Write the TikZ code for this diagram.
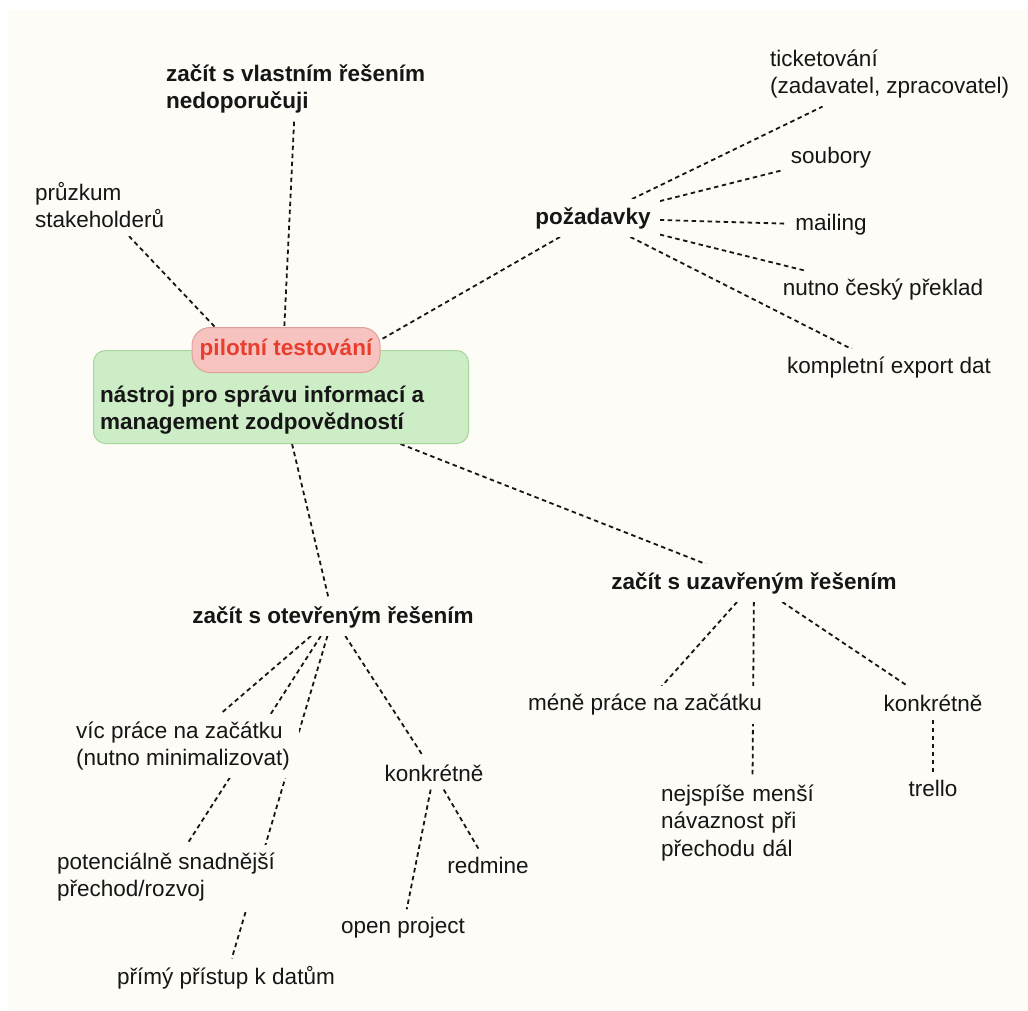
\documentclass[tikz,border=0pt]{standalone}
\usepackage{fontspec}
\setmainfont{Liberation Sans}
\pgfdeclarelayer{back}
\pgfdeclarelayer{lines}
\pgfsetlayers{back,lines,main}
\definecolor{bg}{HTML}{FDFCF6}
\definecolor{gfill}{HTML}{CDEDC6}
\definecolor{gdraw}{HTML}{A6D69C}
\definecolor{pfill}{HTML}{F6C3C1}
\definecolor{pdraw}{HTML}{E2A09C}
\definecolor{rtext}{HTML}{E83E2E}
\definecolor{ink}{HTML}{161616}
\begin{document}
\begin{tikzpicture}[x=1pt,y=-1pt,
  lbl/.style={font=\fontsize{22.5}{27.5}\selectfont, fill=bg, inner xsep=9pt, inner ysep=8pt, align=left, text=ink},
  blbl/.style={lbl, font=\fontsize{22.5}{27.5}\selectfont\bfseries},
  conn/.style={line width=1.8pt, dash pattern=on 4.5pt off 3.5pt, ink},
  greenbox/.style={rectangle, rounded corners=12pt, fill=gfill, draw=gdraw, line width=1pt},
  pinkbox/.style={rectangle, rounded corners=18pt, fill=pfill, draw=pdraw, line width=1pt,
    font=\fontsize{22.5}{27.5}\selectfont\bfseries, text=rtext, inner sep=0pt}
]
\useasboundingbox (0,0) rectangle (1028,1011);
\begin{pgfonlayer}{back}
  \fill[white] (0,0) rectangle (1028,1011);
  \fill[bg] (8,10) rectangle (1028,1011);
\end{pgfonlayer}

% central topic
\node[greenbox, minimum width=375pt, minimum height=93pt, anchor=north west] (main) at (93,350) {};
\node[blbl, fill=none, inner sep=0pt, anchor=west] (maintxt) at (100,410) {nástroj pro správu informací a\\management zodpovědností};
\node[pinkbox, minimum width=188pt, minimum height=45pt] (pilot) at (286,350) {pilotní testování};

% upper left
\node[blbl, anchor=west] (vlast) at (157,89) {začít s vlastním řešením\\nedoporučuji};
\node[lbl, anchor=west] (pruz) at (26,205) {průzkum\\stakeholderů};

% requirements
\node[blbl] (poz) at (593,218) {požadavky};
\node[lbl, anchor=west] (tick) at (761,74) {ticketování\\(zadavatel, zpracovatel)};
\node[lbl] (soub) at (831,158) {soubory};
\node[lbl] (mail) at (831,225) {mailing};
\node[lbl] (prek) at (883,290) {nutno český překlad};
\node[lbl] (exp) at (889,368) {kompletní export dat};

% open solution
\node[blbl] (otev) at (333,617) {začít s otevřeným řešením};
\node[lbl, anchor=west] (vic) at (67,746) {víc práce na začátku\\(nutno minimalizovat)};
\node[lbl, anchor=west] (pot) at (48,877) {potenciálně snadnější\\přechod/rozvoj};
\node[lbl] (prim) at (226,978) {přímý přístup k datům};
\node[lbl] (konL) at (434,773) {konkrétně};
\node[lbl] (red) at (488,865) {redmine};
\node[lbl] (open) at (403,928) {open project};

% closed solution
\node[blbl] (uzav) at (754,583) {začít s uzavřeným řešením};
\node[lbl] (mene) at (645,705) {méně práce na začátku};
\node[lbl, anchor=west, text width=182pt] (nejs) at (652,823) {nejspíše menší\\návaznost při\\přechodu dál};
\node[lbl] (konR) at (933,703) {konkrétně};
\node[lbl] (trel) at (933,788) {trello};

\begin{pgfonlayer}{lines}
  \draw[conn] (vlast) -- (main);
  \draw[conn] (pruz) -- (main);
  \draw[conn] (poz) -- (main);
  \draw[conn] (poz) -- (tick);
  \draw[conn] (poz) -- (soub);
  \draw[conn] (poz) -- (mail);
  \draw[conn] (poz) -- (prek);
  \draw[conn] (poz) -- (exp);
  \draw[conn] (main) -- (otev);
  \draw[conn] (main) -- (uzav);
  \draw[conn] (otev) -- (vic);
  \draw[conn] (otev) -- (pot);
  \draw[conn] (otev) -- (prim);
  \draw[conn] (otev) -- (konL);
  \draw[conn] (konL) -- (red);
  \draw[conn] (konL) -- (open);
  \draw[conn] (uzav) -- (mene);
  \draw[conn] (uzav) -- (nejs);
  \draw[conn] (uzav) -- (konR);
  \draw[conn] (konR) -- (trel);
\end{pgfonlayer}
\end{tikzpicture}
\end{document}
